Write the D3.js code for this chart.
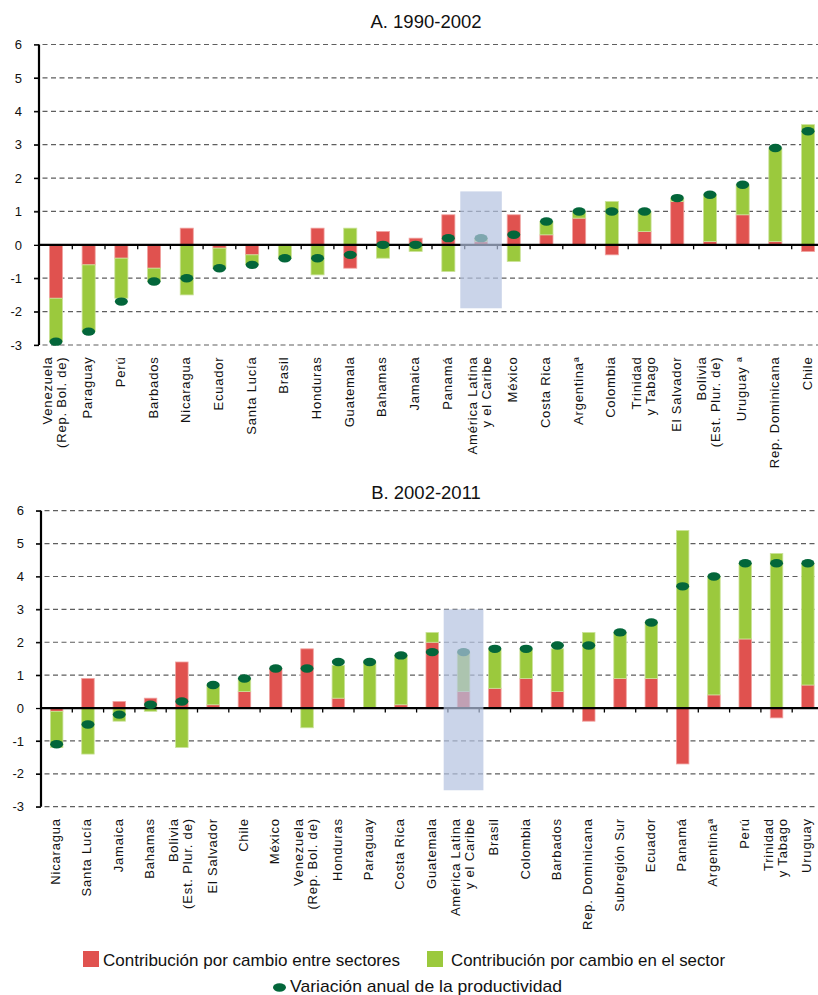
<!DOCTYPE html>
<html>
<head>
<meta charset="utf-8">
<script src="https://cdn.jsdelivr.net/npm/d3@7"></script>
<style>
  body { margin: 0; background: #fff; }
  svg { display: block; font-family: "Liberation Sans", Arial, sans-serif; }
</style>
</head>
<body>
<div id="viz"></div>
<script>
// Panel A: 1990-2002
const catsA = [
  ["Venezuela", "(Rep. Bol. de)"], ["Paraguay"], ["Perú"], ["Barbados"], ["Nicaragua"],
  ["Ecuador"], ["Santa Lucía"], ["Brasil"], ["Honduras"], ["Guatemala"], ["Bahamas"],
  ["Jamaica"], ["Panamá"], ["América Latina", "y el Caribe"], ["México"], ["Costa Rica"],
  ["Argentinaª"], ["Colombia"], ["Trinidad", "y Tabago"], ["El Salvador"],
  ["Bolivia", "(Est. Plur. de)"], ["Uruguay ª"], ["Rep. Dominicana"], ["Chile"]
];
const entreA = [-1.6, -0.6, -0.4, -0.7, 0.5, -0.1, -0.3, 0, 0.5, -0.7, 0.4, 0.2,
  0.9, 0.1, 0.9, 0.3, 0.8, -0.3, 0.4, 1.3, 0.1, 0.9, 0.1, -0.2];
const enA = [-1.3, -2.0, -1.2, -0.4, -1.5, -0.6, -0.3, -0.4, -0.9, 0.5, -0.4, -0.2,
  -0.8, 0.1, -0.5, 0.4, 0.2, 1.3, 0.6, 0.1, 1.4, 0.9, 2.8, 3.6];
const variacionA = [-2.9, -2.6, -1.7, -1.1, -1.0, -0.7, -0.6, -0.4, -0.4, -0.3, 0, 0,
  0.2, 0.2, 0.3, 0.7, 1.0, 1.0, 1.0, 1.4, 1.5, 1.8, 2.9, 3.4];
const highlightA = [-1.9, 1.6];

// Panel B: 2002-2011
const catsB = [
  ["Nicaragua"], ["Santa Lucía"], ["Jamaica"], ["Bahamas"], ["Bolivia", "(Est. Plur. de)"],
  ["El Salvador"], ["Chile"], ["México"], ["Venezuela", "(Rep. Bol. de)"], ["Honduras"],
  ["Paraguay"], ["Costa Rica"], ["Guatemala"], ["América Latina", "y el Caribe"], ["Brasil"],
  ["Colombia"], ["Barbados"], ["Rep. Dominicana"], ["Subregión Sur"], ["Ecuador"],
  ["Panamá"], ["Argentinaª"], ["Perú"], ["Trinidad", "y Tabago"], ["Uruguay"]
];
const entreB = [-0.1, 0.9, 0.2, 0.3, 1.4, 0.1, 0.5, 1.2, 1.8, 0.3, 0, 0.1, 2.0,
  0.5, 0.6, 0.9, 0.5, -0.4, 0.9, 0.9, -1.7, 0.4, 2.1, -0.3, 0.7];
const enB = [-1.1, -1.4, -0.4, -0.1, -1.2, 0.6, 0.4, 0, -0.6, 1.0, 1.4, 1.5, 0.3,
  1.2, 1.2, 0.9, 1.3, 2.3, 1.4, 1.7, 5.4, 3.6, 2.3, 4.7, 3.7];
const variacionB = [-1.1, -0.5, -0.2, 0.1, 0.2, 0.7, 0.9, 1.2, 1.2, 1.4, 1.4, 1.6, 1.7,
  1.7, 1.8, 1.8, 1.9, 1.9, 2.3, 2.6, 3.7, 4.0, 4.4, 4.4, 4.4];
const highlightB = [-2.5, 3.0];

const yTicks = [-3, -2, -1, 0, 1, 2, 3, 4, 5, 6];
const legendLabels = [
  "Contribución por cambio entre sectores",
  "Contribución por cambio en el sector",
  "Variación anual de la productividad"
];

const colors = { entre: "#e0524f", en: "#9bc93d", dot: "#03663a" };
const strokes = { entre: "#f0a3a1", en: "#cbe39a" };

const width = 818, height = 995;

const svg = d3.select("#viz")
  .append("svg")
  .attr("width", width)
  .attr("height", height);

function drawPanel(p) {
  const n = p.cats.length;
  const x = d3.scaleBand().domain(d3.range(n)).range([p.x0, p.x1]);
  const y = d3.scaleLinear().domain([-3, 6]).range([p.yBottom, p.yTop]);
  const bw = x.bandwidth();
  const barW = bw * 0.4;
  const g = svg.append("g");

  // title
  g.append("text")
    .attr("x", 426)
    .attr("y", p.titleY)
    .attr("text-anchor", "middle")
    .style("font-size", "18.5px")
    .style("fill", "#111")
    .text(p.title);

  // dashed gridlines
  g.selectAll("line.grid")
    .data(yTicks.filter(t => t !== 0))
    .enter()
    .append("line")
    .attr("class", "grid")
    .attr("x1", p.axisX - 5)
    .attr("x2", width)
    .attr("y1", d => y(d))
    .attr("y2", d => y(d))
    .style("stroke", "#5e5e5e")
    .style("stroke-width", 1.2)
    .style("stroke-dasharray", "5,3.5");

  // stacked bars (diverging)
  const rows = p.cats.map((c, i) => ({ i: i, entre: p.entre[i], en: p.en[i] }));
  const series = d3.stack()
    .keys(["entre", "en"])
    .offset(d3.stackOffsetDiverging)(rows);

  series.forEach(s => {
    g.selectAll(null)
      .data(s.filter(d => d[1] !== d[0]))
      .enter()
      .append("rect")
      .attr("x", d => x(d.data.i) + (bw - barW) / 2)
      .attr("y", d => y(Math.max(d[0], d[1])))
      .attr("width", barW)
      .attr("height", d => Math.abs(y(d[0]) - y(d[1])))
      .style("fill", colors[s.key])
      .style("stroke", strokes[s.key])
      .style("stroke-width", 0.8);
  });

  // zero line
  g.append("line")
    .attr("x1", p.axisX)
    .attr("x2", width)
    .attr("y1", y(0))
    .attr("y2", y(0))
    .style("stroke", "#000")
    .style("stroke-width", 2.2);

  // category ticks below the zero line
  g.selectAll("line.xtick")
    .data(d3.range(1, n))
    .enter()
    .append("line")
    .attr("x1", d => x(d))
    .attr("x2", d => x(d))
    .attr("y1", y(0))
    .attr("y2", y(0) + 4.5)
    .style("stroke", "#000")
    .style("stroke-width", 1.3);

  // productivity dots
  g.selectAll("ellipse.dot")
    .data(p.dots)
    .enter()
    .append("ellipse")
    .attr("cx", (d, i) => x(i) + bw / 2)
    .attr("cy", d => y(d))
    .attr("rx", 6.5)
    .attr("ry", 4.2)
    .style("fill", colors.dot);

  // regional highlight box
  const hi = p.cats.findIndex(c => c[0] === "América Latina");
  const hw = bw * 1.27;
  g.append("rect")
    .attr("x", x(hi) + bw / 2 - hw / 2)
    .attr("y", y(p.highlight[1]))
    .attr("width", hw)
    .attr("height", y(p.highlight[0]) - y(p.highlight[1]))
    .style("fill", "#b3c2e0")
    .style("opacity", 0.7);

  // y axis
  const yAxis = d3.axisLeft(y)
    .tickValues(yTicks)
    .tickSize(5)
    .tickPadding(12)
    .tickFormat(d => String(d));
  const ax = g.append("g")
    .attr("transform", `translate(${p.axisX},0)`)
    .call(yAxis);
  ax.select(".domain").style("stroke", "#000").style("stroke-width", 2.2)
    .attr("d", `M0,${y(6)}V${y(-3)}`);
  ax.selectAll(".tick line").style("stroke", "#000").style("stroke-width", 1.3);
  ax.selectAll(".tick text")
    .style("font-size", "13px")
    .style("fill", "#111")
    .style("font-family", "'Liberation Sans', Arial, sans-serif");

  // rotated category labels
  const labelTop = y(-3) + 11.5;
  const lab = g.selectAll("text.cat")
    .data(p.cats)
    .enter()
    .append("text")
    .attr("class", "cat")
    .attr("text-anchor", "end")
    .attr("transform", (d, i) => `translate(${x(i) + bw / 2},${labelTop}) rotate(-90)`)
    .style("font-size", "13px")
    .style("letter-spacing", "0.8px")
    .style("fill", "#111");

  lab.each(function(d) {
    const t = d3.select(this);
    if (d.length === 1) {
      t.append("tspan").attr("x", 0).attr("y", 3.5).text(d[0]);
    } else {
      t.append("tspan").attr("x", 0).attr("y", -4).text(d[0]);
      t.append("tspan").attr("x", 0).attr("y", 10).text(d[1]);
    }
  });
}

drawPanel({
  title: "A. 1990-2002", titleY: 28,
  cats: catsA, entre: entreA, en: enA, dots: variacionA, highlight: highlightA,
  x0: 39.6, x1: 39.6 + 24 * 32.7, axisX: 39, yTop: 44.5, yBottom: 345
});

drawPanel({
  title: "B. 2002-2011", titleY: 499,
  cats: catsB, entre: entreB, en: enB, dots: variacionB, highlight: highlightB,
  x0: 41, x1: 41 + 25 * 31.3, axisX: 41, yTop: 510.7, yBottom: 806.7
});

// legend
const legend = svg.append("g").style("font-size", "17px").style("fill", "#111");

legend.append("rect").attr("x", 83).attr("y", 951).attr("width", 16).attr("height", 16)
  .style("fill", colors.entre);
legend.append("text").attr("x", 103).attr("y", 966)
  .attr("textLength", 297).attr("lengthAdjust", "spacingAndGlyphs")
  .text(legendLabels[0]);

legend.append("rect").attr("x", 427).attr("y", 951).attr("width", 16).attr("height", 16)
  .style("fill", colors.en);
legend.append("text").attr("x", 451).attr("y", 966)
  .attr("textLength", 274).attr("lengthAdjust", "spacingAndGlyphs")
  .text(legendLabels[1]);

legend.append("ellipse").attr("cx", 279.5).attr("cy", 987.5).attr("rx", 6.5).attr("ry", 4.2)
  .style("fill", colors.dot);
legend.append("text").attr("x", 290).attr("y", 992)
  .attr("textLength", 272).attr("lengthAdjust", "spacingAndGlyphs")
  .text(legendLabels[2]);
</script>
</body>
</html>
